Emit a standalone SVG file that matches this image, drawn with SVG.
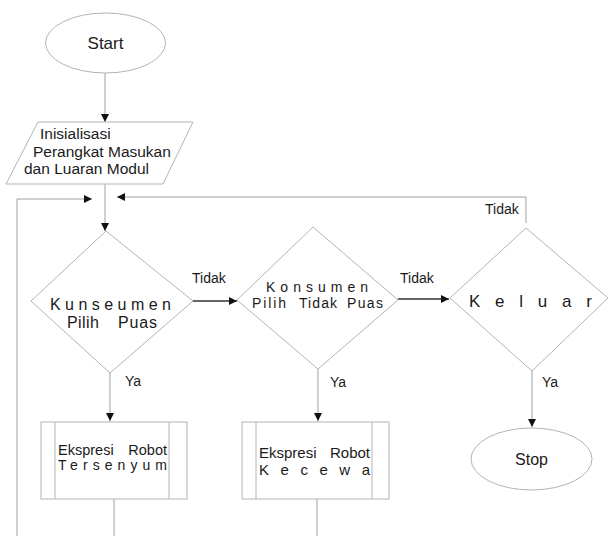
<svg xmlns="http://www.w3.org/2000/svg" width="609" height="536" viewBox="0 0 609 536">
<style>
.shape{fill:#fff;stroke:#b4b4b4;stroke-width:1}
.line{fill:none;stroke:#a0a0a0;stroke-width:1}
.dark{fill:none;stroke:#333;stroke-width:1.6}
text{font-family:"Liberation Sans",Arial,sans-serif;fill:#1a1a1a}
.lbl{font-size:14px}
</style>
<defs>
<marker id="ah" viewBox="0 0 10 10" refX="10" refY="5" markerWidth="8" markerHeight="8" markerUnits="userSpaceOnUse" orient="auto">
<path d="M0,0 L10,5 L0,10 Z" fill="#111"/>
</marker>
</defs>
<rect width="609" height="536" fill="#fff"/>
<g id="connectors">
<line class="line" x1="105" y1="73" x2="105" y2="122" marker-end="url(#ah)"/>
<line class="line" x1="105" y1="184" x2="105" y2="231" marker-end="url(#ah)"/>
<polyline class="line" points="17,536 17,199 92,199" marker-end="url(#ah)"/>
<polyline class="line" points="526,223 526,197 117,197" marker-end="url(#ah)"/>
<line class="dark" x1="193" y1="301" x2="237" y2="301" marker-end="url(#ah)"/>
<line class="dark" x1="398" y1="299" x2="449" y2="299" marker-end="url(#ah)"/>
<line class="line" x1="110" y1="373" x2="110" y2="421" marker-end="url(#ah)"/>
<line class="line" x1="318" y1="369" x2="318" y2="421" marker-end="url(#ah)"/>
<line class="line" x1="532" y1="371" x2="532" y2="427" marker-end="url(#ah)"/>
<line class="line" x1="114" y1="499" x2="114" y2="536"/>
<line class="line" x1="317" y1="499" x2="317" y2="536"/>
<text class="lbl" x="192" y="283">Tidak</text>
<text class="lbl" x="400" y="283">Tidak</text>
<text class="lbl" x="485" y="214">Tidak</text>
<text class="lbl" x="125" y="386">Ya</text>
<text class="lbl" x="330" y="387">Ya</text>
<text class="lbl" x="542" y="387">Ya</text>
</g>
<g id="start">
<ellipse class="shape" cx="105.5" cy="43" rx="60" ry="30"/>
<text x="105.5" y="49" font-size="17" text-anchor="middle">Start</text>
</g>
<g id="init">
<polygon class="shape" points="38,122 193,122 163,184 6,184"/>
<text x="40" y="139" font-size="15.5">Inisialisasi</text>
<text x="33" y="157" font-size="15.5">Perangkat Masukan</text>
<text x="24" y="174" font-size="15.5">dan Luaran Modul</text>
</g>
<g id="d1">
<polygon class="shape" points="106,231 193,301 110,373 31,301"/>
<text x="50" y="310" font-size="16" textLength="121" lengthAdjust="spacing">Kunseumen</text>
<text x="67" y="328" font-size="16" textLength="32" lengthAdjust="spacing">Pilih</text>
<text x="118" y="328" font-size="16" textLength="39" lengthAdjust="spacing">Puas</text>
</g>
<g id="d2">
<polygon class="shape" points="313,227 398,300 318,369 237,300"/>
<text x="266" y="292" font-size="14" textLength="102" lengthAdjust="spacing">Konsumen</text>
<text x="252" y="308" font-size="14" textLength="34" lengthAdjust="spacing">Pilih</text>
<text x="299" y="308" font-size="14" textLength="38" lengthAdjust="spacing">Tidak</text>
<text x="347" y="308" font-size="14" textLength="36" lengthAdjust="spacing">Puas</text>
</g>
<g id="d3">
<polygon class="shape" points="526,228 608,298 532,371 450,298"/>
<text x="469" y="307" font-size="17" textLength="123" lengthAdjust="spacing">Keluar</text>
</g>
<g id="box1">
<rect class="shape" x="41" y="422" width="146" height="77"/>
<line class="shape" x1="55" y1="422" x2="55" y2="499"/>
<line class="shape" x1="169" y1="422" x2="169" y2="499"/>
<text x="58" y="455" font-size="14.5">Ekspresi</text>
<text x="167" y="455" font-size="14.5" text-anchor="end">Robot</text>
<text x="58" y="470" font-size="14" textLength="109" lengthAdjust="spacing">Tersenyum</text>
</g>
<g id="box2">
<rect class="shape" x="242" y="422" width="147" height="77"/>
<line class="shape" x1="256" y1="422" x2="256" y2="499"/>
<line class="shape" x1="372" y1="422" x2="372" y2="499"/>
<text x="259" y="458" font-size="15">Ekspresi</text>
<text x="370" y="458" font-size="15" text-anchor="end">Robot</text>
<text x="259" y="475" font-size="15" textLength="111" lengthAdjust="spacing">Kecewa</text>
</g>
<g id="stop">
<ellipse class="shape" cx="531.5" cy="459" rx="60.5" ry="31"/>
<text x="531.5" y="465" font-size="16" text-anchor="middle">Stop</text>
</g>
</svg>
